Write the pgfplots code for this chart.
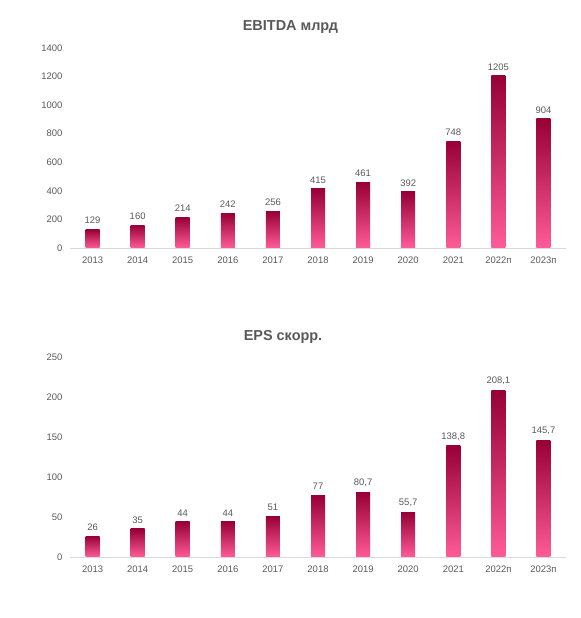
\documentclass[border=0pt]{standalone}
\usepackage{pgfplots}
\pgfplotsset{compat=1.18}
\usepackage{fontspec}
\setmainfont{Liberation Sans}
\definecolor{txt}{HTML}{595959}
\definecolor{bartop}{HTML}{970036}
\definecolor{barmid}{HTML}{BA1A52}
\definecolor{barbot}{HTML}{FF5B98}
\definecolor{axl}{HTML}{D9D9D9}
\pgfplotsset{
  mybars/.style={
    scale only axis,
    width=496bp, height=200bp,
    xmin=-0.5, xmax=10.5, ymin=0,
    axis x line*=bottom, axis y line*=left,
    x axis line style={draw=axl, line width=0.8bp},
    y axis line style={draw=none},
    major tick length=0pt,
    xtick={0,...,10},
    xticklabels={2013,2014,2015,2016,2017,2018,2019,2020,2021,2022п,2023п},
    tick label style={font=\fontsize{9.5}{11}\selectfont, text=txt},
    xticklabel style={yshift=-5bp},
    yticklabel style={xshift=-4bp},
    /pgf/number format/assume math mode=true,
    /pgf/number format/.cd, use comma, 1000 sep={},
    /pgfplots/.cd,
    ybar, bar width=14bp, bar shift=0pt,
    nodes near coords,
    every node near coord/.append style={font=\fontsize{9.5}{11}\selectfont, text=txt, yshift=2bp},
  },
  gradbar/.style={draw=none, top color=bartop, middle color=barmid, bottom color=barbot},
}
\newcommand{\gbar}[2]{\addplot[gradbar] coordinates {(#1,#2)};}
\begin{document}
\begin{tikzpicture}[x=1bp,y=1bp]
\useasboundingbox (0,0) rectangle (581,618);
\node[font=\bfseries\fontsize{14.5}{17}\selectfont, text=txt] at (290.5,591) {EBITDA млрд};
\begin{axis}[mybars, at={(70bp,370bp)}, anchor=south west, ymax=1400, ytick={0,200,...,1400}]
\gbar{0}{129}
\gbar{1}{160}
\gbar{2}{214}
\gbar{3}{242}
\gbar{4}{256}
\gbar{5}{415}
\gbar{6}{461}
\gbar{7}{392}
\gbar{8}{748}
\gbar{9}{1205}
\gbar{10}{904}
\end{axis}
\node[font=\bfseries\fontsize{14.5}{17}\selectfont, text=txt] at (283,281) {EPS скорр.};
\begin{axis}[mybars, at={(70bp,61bp)}, anchor=south west, ymax=250, ytick={0,50,...,250}]
\gbar{0}{26}
\gbar{1}{35}
\gbar{2}{44}
\gbar{3}{44}
\gbar{4}{51}
\gbar{5}{77}
\gbar{6}{80.7}
\gbar{7}{55.7}
\gbar{8}{138.8}
\gbar{9}{208.1}
\gbar{10}{145.7}
\end{axis}
\end{tikzpicture}
\end{document}
